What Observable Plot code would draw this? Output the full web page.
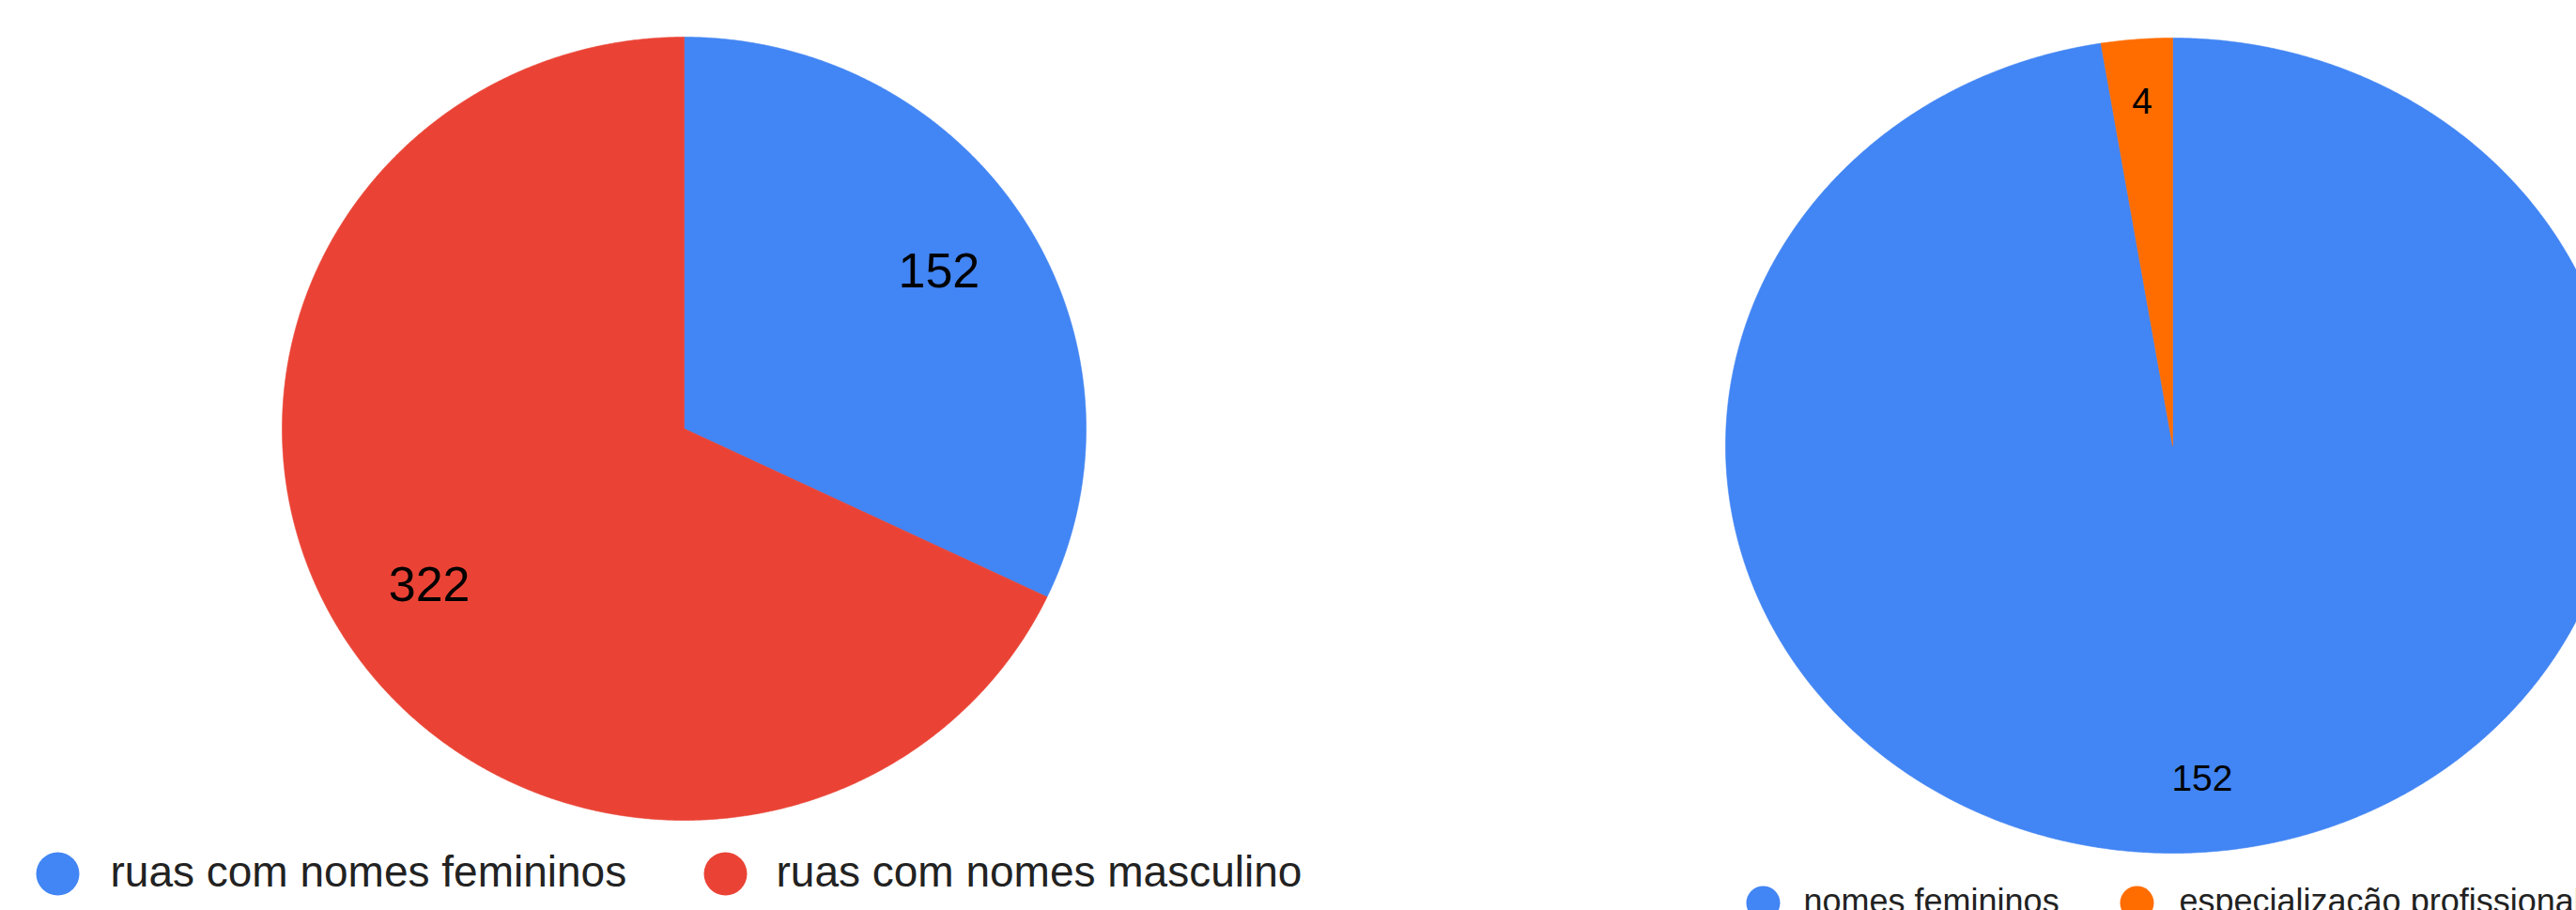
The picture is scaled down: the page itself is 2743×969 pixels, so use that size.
<!DOCTYPE html>
<html>
<head>
<meta charset="utf-8">
<script src="https://cdn.jsdelivr.net/npm/d3@7"></script>
<script src="https://cdn.jsdelivr.net/npm/@observablehq/plot@0.6"></script>
<style>
  html, body { margin: 0; padding: 0; background: #fff; }
  #wrap { display: flex; width: 2743px; height: 969px; overflow: hidden; }
  .panel { overflow: hidden; height: 969px; flex: none; }
  .panel svg { display: block; max-width: none !important; }
</style>
</head>
<body>
<div id="wrap"><div class="panel" id="left"></div><div class="panel" id="right"></div></div>
<script>
// ---- data ----
const leftCategories = ["ruas com nomes femininos", "ruas com nomes masculinos"];
const leftValues = [152, 322];
const leftColors = ["#4285f4", "#ea4335"];

const rightCategories = ["nomes femininos", "especialização profissional"];
const rightValues = [152, 4];
const rightColors = ["#4285f4", "#ff6d01"];

// ---- layout ----
const H = 969;
const SPLIT = 1388;
const W_LEFT = SPLIT, W_RIGHT = 2743 - SPLIT;

function pieData(cats, vals, cx, cy, rx, ry) {
  const arcs = d3.pie().sort(null).value(d => d)(vals);
  const pts = [];
  arcs.forEach((a, i) => {
    const name = cats[i];
    pts.push({name, x: cx, y: cy});
    const n = Math.max(2, Math.ceil((a.endAngle - a.startAngle) / (Math.PI / 720)));
    for (let k = 0; k <= n; k++) {
      const t = a.startAngle + (a.endAngle - a.startAngle) * k / n;
      pts.push({name, x: cx + rx * Math.sin(t), y: cy - ry * Math.cos(t)});
    }
    pts.push({name, x: cx, y: cy});
  });
  return {arcs, pts};
}

function labelData(arcs, vals, cx, cy, rx, ry, fs) {
  return arcs.map((a, i) => {
    const m = (a.startAngle + a.endAngle) / 2;
    const f = fs[i];
    return {label: String(vals[i]), x: cx + f * rx * Math.sin(m), y: cy - f * ry * Math.cos(m)};
  });
}

function makeChart({width, cats, vals, colors, cx, cy, rx, ry, labelF, labelSize, legend}) {
  const {arcs, pts} = pieData(cats, vals, cx, cy, rx, ry);
  const labels = labelData(arcs, vals, cx, cy, rx, ry, labelF);
  const leg = cats.map((c, i) => ({name: c, dx: legend.dotX[i], tx: legend.textX[i]}));
  return Plot.plot({
    width, height: H,
    margin: 0,
    style: {background: "#fff", overflow: "hidden", maxWidth: "none"},
    x: {domain: [0, width], range: [0, width], axis: null},
    y: {domain: [0, H], range: [0, H], axis: null},
    color: {domain: cats, range: colors},
    marks: [
      Plot.line(pts, {x: "x", y: "y", z: "name", fill: "name", stroke: "name", strokeWidth: 0.6, curve: "linear"}),
      Plot.text(labels, {x: "x", y: "y", text: "label", fill: "#000", fontSize: labelSize,
        fontFamily: "Arial, 'Liberation Sans', sans-serif", textAnchor: "middle", lineAnchor: "middle"}),
      Plot.dot(leg, {x: "dx", y: () => legend.y, r: legend.r, fill: "name", stroke: null}),
      Plot.text(leg, {x: "tx", y: () => legend.textY, text: "name", fill: "#222", fontSize: legend.size,
        fontFamily: "Arial, 'Liberation Sans', sans-serif", textAnchor: "start", lineAnchor: "middle"})
    ]
  });
}

document.getElementById("left").style.width = W_LEFT + "px";
document.getElementById("right").style.width = W_RIGHT + "px";

document.getElementById("left").appendChild(makeChart({
  width: W_LEFT, cats: leftCategories, vals: leftValues, colors: leftColors,
  cx: 728, cy: 456, rx: 428, ry: 417, labelF: [0.75, 0.75], labelSize: 52,
  legend: {dotX: [61, 772], textX: [117, 826], y: 930, r: 23, textY: 929, size: 46}
}));

document.getElementById("right").appendChild(makeChart({
  width: W_RIGHT, cats: rightCategories, vals: rightValues, colors: rightColors,
  cx: 2313 - SPLIT, cy: 474, rx: 476, ry: 434, labelF: [0.82, 0.845], labelSize: 39,
  legend: {dotX: [1877 - SPLIT, 2275 - SPLIT], textX: [1920 - SPLIT, 2320 - SPLIT], y: 961, r: 18, textY: 960, size: 36}
}));
</script>
</body>
</html>
